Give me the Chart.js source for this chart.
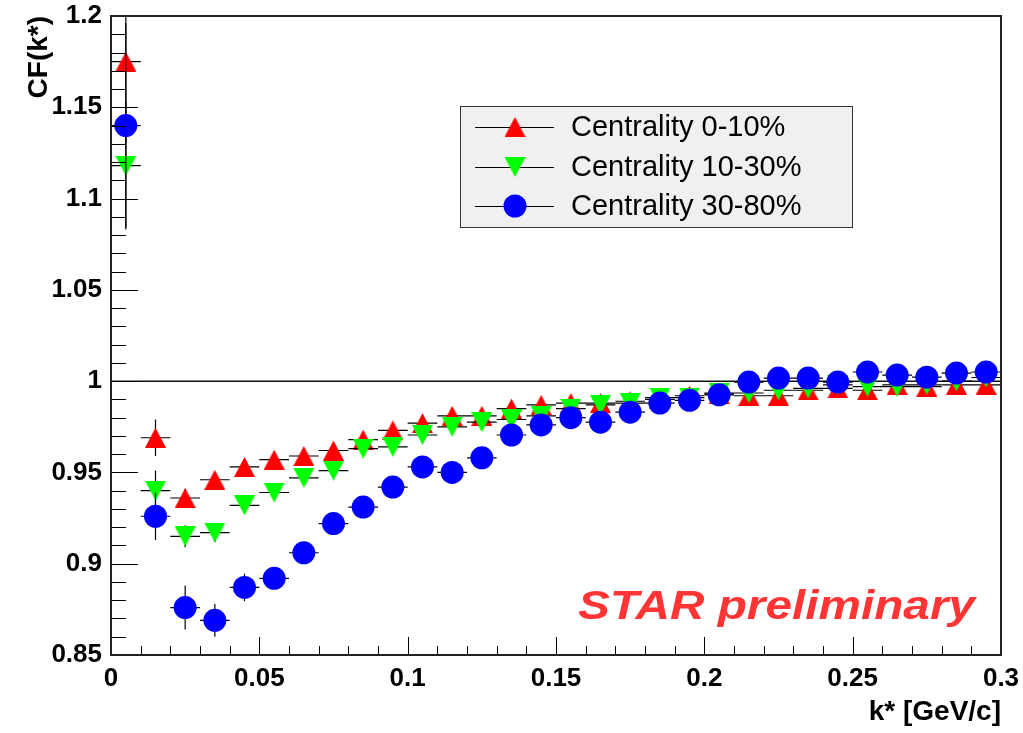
<!DOCTYPE html>
<html>
<head>
<meta charset="utf-8">
<script src="https://cdn.jsdelivr.net/npm/chart.js@4/dist/chart.umd.min.js"></script>
<style>
  html, body { margin: 0; padding: 0; background: #fff; }
</style>
</head>
<body>
<canvas id="cf" width="1023" height="733"></canvas>
<script>
// bin centres of k* [GeV/c]
const kStar = [0.005, 0.015, 0.025, 0.035, 0.045, 0.055, 0.065, 0.075, 0.085, 0.095,
               0.105, 0.115, 0.125, 0.135, 0.145, 0.155, 0.165, 0.175, 0.185, 0.195,
               0.205, 0.215, 0.225, 0.235, 0.245, 0.255, 0.265, 0.275, 0.285, 0.295];
const binHalf = 0.005;

const cf0to10 = [1.175, 0.969, 0.936, 0.946, 0.953, 0.957, 0.959, 0.962, 0.968, 0.973,
                 0.977, 0.981, 0.981, 0.985, 0.987, 0.988, 0.988, 0.989, 0.990, 0.992,
                 0.993, 0.992, 0.992, 0.995, 0.996, 0.995, 0.998, 0.997, 0.998, 0.998];
const err0to10 = [0.045, 0.010, 0.005, 0.004, 0.004, 0.003, 0.003, 0.003, 0.003, 0.003,
                  0.003, 0.003, 0.002, 0.002, 0.002, 0.002, 0.002, 0.002, 0.002, 0.002,
                  0.002, 0.002, 0.002, 0.002, 0.002, 0.002, 0.002, 0.002, 0.002, 0.002];

const cf10to30 = [1.118, 0.940, 0.915, 0.917, 0.932, 0.939, 0.947, 0.951, 0.963, 0.964,
                  0.9705, 0.975, 0.9775, 0.979, 0.981, 0.985, 0.987, 0.988, 0.991, 0.991,
                  0.9935, 0.9935, 0.995, 0.996, 0.998, 0.997, 0.997, 0.998, 1.000, 1.002];
const err10to30 = [0.035, 0.011, 0.006, 0.005, 0.004, 0.004, 0.003, 0.003, 0.003, 0.003,
                   0.003, 0.003, 0.002, 0.002, 0.002, 0.002, 0.002, 0.002, 0.002, 0.002,
                   0.002, 0.002, 0.002, 0.002, 0.002, 0.002, 0.002, 0.002, 0.002, 0.002];

const cf30to80 = [1.140, 0.926, 0.876, 0.869, 0.887, 0.892, 0.906, 0.922, 0.931, 0.942,
                  0.953, 0.950, 0.958, 0.9705, 0.976, 0.980, 0.9775, 0.983, 0.988, 0.9895,
                  0.9925, 0.9995, 1.0017, 1.0017, 0.9995, 1.005, 1.0033, 1.0022, 1.0044, 1.005];
const err30to80 = [0.056, 0.013, 0.012, 0.009, 0.0075, 0.005, 0.004, 0.004, 0.003, 0.003,
                   0.003, 0.003, 0.003, 0.003, 0.003, 0.003, 0.003, 0.003, 0.003, 0.003,
                   0.003, 0.003, 0.003, 0.003, 0.003, 0.003, 0.003, 0.003, 0.003, 0.003];

const seriesLabels = ['Centrality 0-10%', 'Centrality 10-30%', 'Centrality 30-80%'];
const xTicks = [0, 0.05, 0.1, 0.15, 0.2, 0.25, 0.3];
const yTicks = [0.85, 0.9, 0.95, 1, 1.05, 1.1, 1.15, 1.2];

const FONT = "'Liberation Sans', Arial, Helvetica, sans-serif";

// ROOT-like markers (centred on their bounding box)
function triangle(up, color) {
  const w = 21, h = 20;
  const c = document.createElement('canvas');
  c.width = w; c.height = h;
  const g = c.getContext('2d');
  g.fillStyle = color;
  g.beginPath();
  if (up) { g.moveTo(w / 2, 0); g.lineTo(w, h); g.lineTo(0, h); }
  else { g.moveTo(0, 0); g.lineTo(w, 0); g.lineTo(w / 2, h); }
  g.closePath();
  g.fill();
  return c;
}
const triUp = triangle(true, '#ff0000');
const triDown = triangle(false, '#00ff00');

const pts = (ys) => ys.map((v, i) => ({ x: kStar[i], y: v }));
const fmt = (v) => String(parseFloat(Number(v).toFixed(3)));

// error bars, drawn just before each dataset's markers
const errorBars = {
  id: 'errorBars',
  beforeDatasetDraw(chart, args) {
    const ds = chart.data.datasets[args.index];
    const { ctx, chartArea: a, scales: { x, y } } = chart;
    ctx.save();
    ctx.beginPath();
    ctx.rect(a.left, a.top, a.right - a.left, a.bottom - a.top);
    ctx.clip();
    ctx.strokeStyle = '#000';
    ctx.lineWidth = 1.2;
    ctx.beginPath();
    ds.data.forEach((p, i) => {
      const px = x.getPixelForValue(p.x);
      const py = y.getPixelForValue(p.y);
      ctx.moveTo(x.getPixelForValue(p.x - binHalf), py);
      ctx.lineTo(x.getPixelForValue(p.x + binHalf), py);
      ctx.moveTo(px, y.getPixelForValue(p.y - ds.yErr[i]));
      ctx.lineTo(px, y.getPixelForValue(p.y + ds.yErr[i]));
    });
    ctx.stroke();
    ctx.restore();
  }
};

// line at CF = 1
const unityLine = {
  id: 'unityLine',
  beforeDatasetsDraw(chart) {
    const { ctx, chartArea: a, scales: { y } } = chart;
    const py = y.getPixelForValue(1);
    ctx.save();
    ctx.strokeStyle = '#111';
    ctx.lineWidth = 1.5;
    ctx.beginPath();
    ctx.moveTo(a.left, py);
    ctx.lineTo(a.right, py);
    ctx.stroke();
    ctx.restore();
  }
};

// frame + inward major/minor ticks
const frameTicks = {
  id: 'frameTicks',
  afterDatasetsDraw(chart) {
    const { ctx, chartArea: a, scales: { x, y } } = chart;
    ctx.save();
    ctx.strokeStyle = '#000';
    ctx.lineWidth = 1;
    ctx.beginPath();
    for (let i = 0; i <= 30; i++) {
      const px = Math.round(x.getPixelForValue(i * 0.01)) + 0.5;
      const len = i % 5 === 0 ? 18 : 9;
      ctx.moveTo(px, a.bottom);
      ctx.lineTo(px, a.bottom - len);
    }
    for (let i = 0; i <= 35; i++) {
      const py = Math.round(y.getPixelForValue(0.85 + i * 0.01)) + 0.5;
      const len = i % 5 === 0 ? 27 : 15;
      ctx.moveTo(a.left, py);
      ctx.lineTo(a.left + len, py);
    }
    ctx.stroke();
    ctx.strokeStyle = '#222';
    ctx.lineWidth = 2;
    ctx.strokeRect(a.left, a.top, a.right - a.left, a.bottom - a.top);
    ctx.restore();
  }
};

// ROOT style legend box and the STAR label
const overlay = {
  id: 'overlay',
  afterDraw(chart) {
    const { ctx } = chart;
    ctx.save();
    ctx.fillStyle = '#f0f0f0';
    ctx.fillRect(460, 106, 392, 121);
    ctx.strokeStyle = '#333';
    ctx.lineWidth = 1;
    ctx.strokeRect(460.5, 106.5, 392, 121);

    const rowY = [127, 167, 206];
    chart.data.datasets.forEach((ds, i) => {
      const yy = rowY[i];
      ctx.strokeStyle = '#000';
      ctx.lineWidth = 1;
      ctx.beginPath();
      ctx.moveTo(475, yy + 0.5);
      ctx.lineTo(554, yy + 0.5);
      ctx.stroke();
      if (ds.pointStyle instanceof HTMLCanvasElement) {
        const m = ds.pointStyle;
        ctx.drawImage(m, 515 - m.width / 2, yy - m.height / 2);
      } else {
        ctx.fillStyle = ds.backgroundColor;
        ctx.beginPath();
        ctx.arc(515, yy, ds.pointRadius, 0, Math.PI * 2);
        ctx.fill();
      }
      ctx.fillStyle = '#000';
      ctx.font = '29px ' + FONT;
      ctx.textBaseline = 'middle';
      ctx.textAlign = 'left';
      ctx.fillText(ds.label, 571, yy + 1);
    });

    const txt = 'STAR preliminary';
    ctx.font = 'italic bold 40px ' + FONT;
    ctx.fillStyle = '#ff3535';
    ctx.textBaseline = 'alphabetic';
    const sx = 397 / ctx.measureText(txt).width;
    ctx.translate(578, 619);
    ctx.scale(sx, 1);
    ctx.fillText(txt, 0, 0);
    ctx.restore();
  }
};

const tickFont = { family: FONT, size: 26, weight: 'bold' };
const titleFont = { family: FONT, size: 28, weight: 'bold' };

new Chart(document.getElementById('cf'), {
  type: 'scatter',
  data: {
    datasets: [
      { label: seriesLabels[0], data: pts(cf0to10), yErr: err0to10,
        pointStyle: triUp, pointRadius: 10, order: 3 },
      { label: seriesLabels[1], data: pts(cf10to30), yErr: err10to30,
        pointStyle: triDown, pointRadius: 10, order: 2 },
      { label: seriesLabels[2], data: pts(cf30to80), yErr: err30to80,
        pointStyle: 'circle', pointRadius: 11.5, backgroundColor: '#0000ff',
        borderWidth: 0, order: 1 }
    ]
  },
  options: {
    responsive: false,
    animation: false,
    events: [],
    layout: { padding: { top: 16, right: 22, left: 0, bottom: 0 } },
    plugins: { legend: { display: false }, tooltip: { enabled: false } },
    scales: {
      x: {
        type: 'linear', min: 0, max: 0.3,
        afterBuildTicks: (s) => { s.ticks = xTicks.map(v => ({ value: v })); },
        afterFit: (s) => { s.height = 78; s.paddingLeft = 0; s.paddingRight = 0; },
        grid: { display: false, drawTicks: false },
        border: { display: false },
        ticks: { font: tickFont, color: '#000', padding: 8, autoSkip: false,
                 maxRotation: 0, callback: fmt },
        title: { display: true, text: 'k* [GeV/c]', align: 'end', color: '#000',
                 font: titleFont, padding: { top: 0, bottom: 4 } }
      },
      y: {
        type: 'linear', min: 0.85, max: 1.2,
        afterBuildTicks: (s) => { s.ticks = yTicks.map(v => ({ value: v })); },
        afterFit: (s) => { s.width = 111; s.paddingTop = 0; s.paddingBottom = 0; },
        grid: { display: false, drawTicks: false },
        border: { display: false },
        ticks: { font: tickFont, color: '#000', padding: 9, autoSkip: false,
                 callback: fmt },
        title: { display: true, text: 'CF(k*)', align: 'end', color: '#000',
                 font: titleFont, padding: { top: 22, bottom: 0 } }
      }
    }
  },
  plugins: [unityLine, errorBars, frameTicks, overlay]
});
</script>
</body>
</html>
